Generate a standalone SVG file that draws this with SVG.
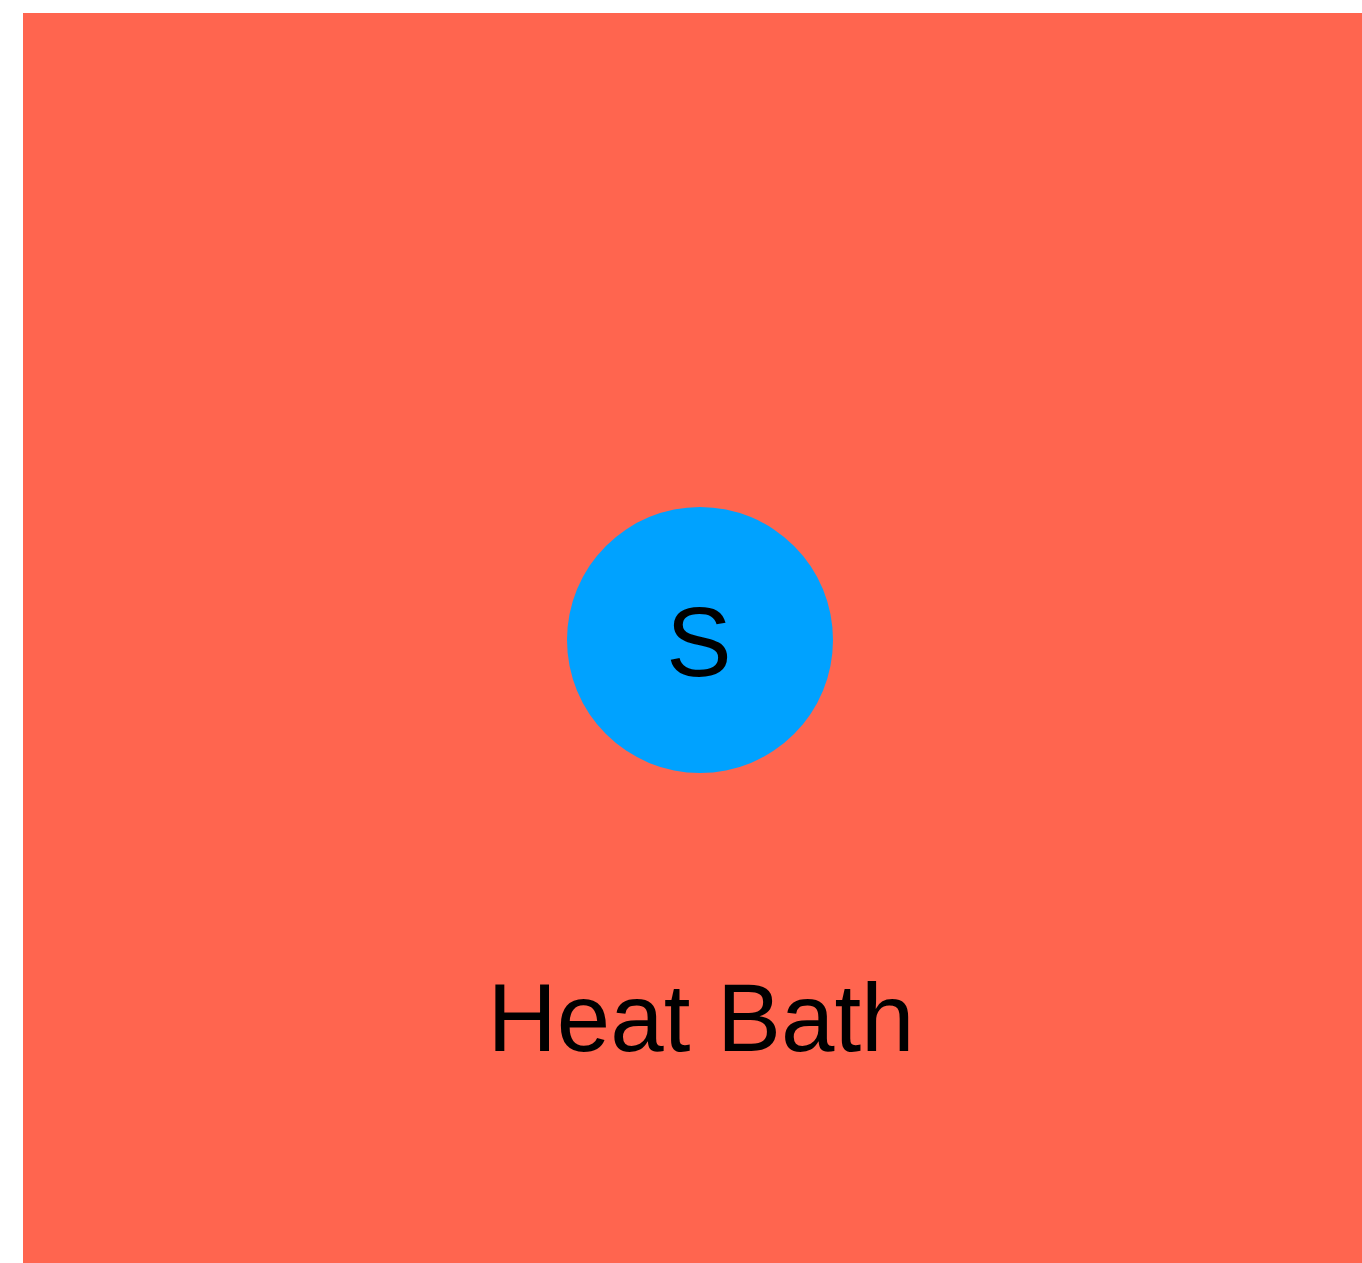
<svg xmlns="http://www.w3.org/2000/svg" width="1362" height="1263" viewBox="0 0 1362 1263">
<style>
.lbl{font-family:"Liberation Sans",Arial,sans-serif;fill:#000;text-anchor:middle}
</style>
<rect x="0" y="0" width="1362" height="1263" fill="#fff"/>
<g id="heat-bath">
<rect x="23" y="13" width="1339" height="1250" fill="#FF654F"/>
<text class="lbl" x="701" y="1051" font-size="96">Heat Bath</text>
</g>
<g id="system">
<circle cx="700" cy="640" r="133" fill="#00A2FF"/>
<text class="lbl" x="699" y="676" font-size="98">S</text>
</g>
<g id="connectors"/>
</svg>
